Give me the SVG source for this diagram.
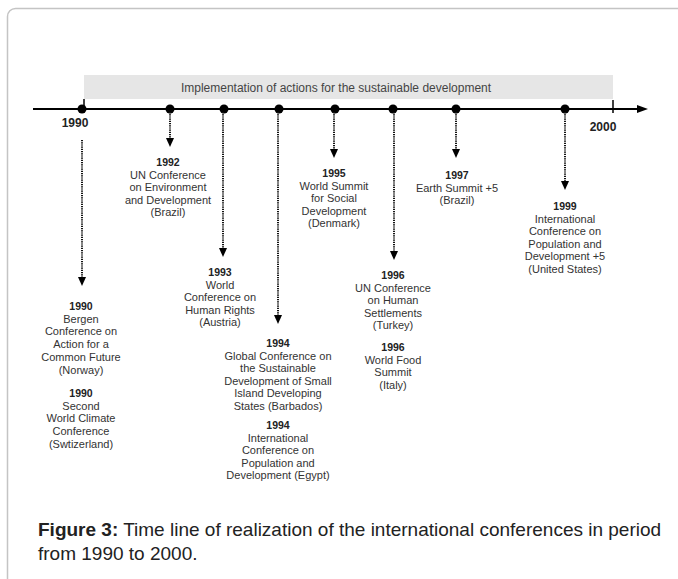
<svg xmlns="http://www.w3.org/2000/svg" width="678" height="579" viewBox="0 0 678 579">
<style>
  text { font-family: "Liberation Sans", Arial, sans-serif; }
  .lbl { font-size: 11px; fill: #333; text-anchor: middle; }
  .yr { font-size: 10.5px; font-weight: bold; fill: #222; }
  .axis { font-size: 12px; font-weight: bold; fill: #222; text-anchor: middle; }
  .band { font-size: 12px; fill: #444; text-anchor: middle; }
  .cap { font-size: 19px; fill: #222; }
  .dash { stroke: #111; stroke-width: 2; stroke-dasharray: 1.2 1; fill: none; }
  .dot { fill: #000; }
</style>
<defs>
  <marker id="ah" markerUnits="userSpaceOnUse" viewBox="0 0 9 8" markerWidth="9" markerHeight="8" refX="5" refY="4" orient="auto">
    <path d="M0,0 L9,4 L0,8 z" fill="#000"/>
  </marker>
</defs>
<rect x="0" y="0" width="678" height="579" fill="#fff"/>
<rect x="7.5" y="8.5" width="700" height="620" rx="8" fill="#fff" stroke="#c4c4c4" stroke-width="1.5"/>

<g id="band">
  <rect x="84" y="75" width="529" height="24" fill="#e6e6e6"/>
  <text class="band" x="336" y="92">Implementation of actions for the sustainable development</text>
</g>

<g id="axis">
  <line x1="33" y1="109" x2="640" y2="109" stroke="#000" stroke-width="2"/>
  <polygon points="637,105 648,109 637,113" fill="#000"/>
  <line x1="84" y1="99" x2="84" y2="109" stroke="#000" stroke-width="1.5"/>
  <line x1="613" y1="100" x2="613" y2="113" stroke="#000" stroke-width="1.5"/>
  <text class="axis" x="75" y="127">1990</text>
  <text class="axis" x="603" y="131">2000</text>
  <circle class="dot" cx="82" cy="109" r="4.5"/>
  <circle class="dot" cx="170" cy="109" r="4.5"/>
  <circle class="dot" cx="224" cy="109" r="4.5"/>
  <circle class="dot" cx="279" cy="109" r="4.5"/>
  <circle class="dot" cx="335" cy="109" r="4.5"/>
  <circle class="dot" cx="393" cy="109" r="4.5"/>
  <circle class="dot" cx="456" cy="109" r="4.5"/>
  <circle class="dot" cx="565" cy="109" r="4.5"/>
</g>

<g id="connectors">
  <line class="dash" x1="82" y1="140" x2="82" y2="282" marker-end="url(#ah)"/>
  <line class="dash" x1="170" y1="112" x2="170" y2="143" marker-end="url(#ah)"/>
  <line class="dash" x1="223" y1="112" x2="223" y2="253" marker-end="url(#ah)"/>
  <line class="dash" x1="278" y1="112" x2="278" y2="320" marker-end="url(#ah)"/>
  <line class="dash" x1="334" y1="112" x2="334" y2="154" marker-end="url(#ah)"/>
  <line class="dash" x1="394" y1="112" x2="394" y2="256" marker-end="url(#ah)"/>
  <line class="dash" x1="456" y1="112" x2="456" y2="154" marker-end="url(#ah)"/>
  <line class="dash" x1="565" y1="112" x2="565" y2="186" marker-end="url(#ah)"/>
</g>

<g id="n1990a">
  <text class="lbl" x="81" y="310"><tspan class="yr" x="81">1990</tspan><tspan x="81" dy="12.7">Bergen</tspan><tspan x="81" dy="12.7">Conference on</tspan><tspan x="81" dy="12.7">Action for a</tspan><tspan x="81" dy="12.7">Common Future</tspan><tspan x="81" dy="12.7">(Norway)</tspan></text>
</g>
<g id="n1990b">
  <text class="lbl" x="81" y="397"><tspan class="yr" x="81">1990</tspan><tspan x="81" dy="12.7">Second</tspan><tspan x="81" dy="12.7">World Climate</tspan><tspan x="81" dy="12.7">Conference</tspan><tspan x="81" dy="12.7">(Swtizerland)</tspan></text>
</g>
<g id="n1992">
  <text class="lbl" x="168" y="166"><tspan class="yr" x="168">1992</tspan><tspan x="168" dy="12.6">UN Conference</tspan><tspan x="168" dy="12.6">on Environment</tspan><tspan x="168" dy="12.6">and Development</tspan><tspan x="168" dy="12.6">(Brazil)</tspan></text>
</g>
<g id="n1993">
  <text class="lbl" x="220" y="276"><tspan class="yr" x="220">1993</tspan><tspan x="220" dy="12.6">World</tspan><tspan x="220" dy="12.6">Conference on</tspan><tspan x="220" dy="12.6">Human Rights</tspan><tspan x="220" dy="12.6">(Austria)</tspan></text>
</g>
<g id="n1994a">
  <text class="lbl" x="278" y="347"><tspan class="yr" x="278">1994</tspan><tspan x="278" dy="12.6">Global Conference on</tspan><tspan x="278" dy="12.6">the Sustainable</tspan><tspan x="278" dy="12.6">Development of Small</tspan><tspan x="278" dy="12.6">Island Developing</tspan><tspan x="278" dy="12.6">States (Barbados)</tspan></text>
</g>
<g id="n1994b">
  <text class="lbl" x="278" y="429"><tspan class="yr" x="278">1994</tspan><tspan x="278" dy="12.6">International</tspan><tspan x="278" dy="12.6">Conference on</tspan><tspan x="278" dy="12.6">Population and</tspan><tspan x="278" dy="12.6">Development (Egypt)</tspan></text>
</g>
<g id="n1995">
  <text class="lbl" x="334" y="177"><tspan class="yr" x="334">1995</tspan><tspan x="334" dy="12.6">World Summit</tspan><tspan x="334" dy="12.6">for Social</tspan><tspan x="334" dy="12.6">Development</tspan><tspan x="334" dy="12.6">(Denmark)</tspan></text>
</g>
<g id="n1996a">
  <text class="lbl" x="393" y="279"><tspan class="yr" x="393">1996</tspan><tspan x="393" dy="12.6">UN Conference</tspan><tspan x="393" dy="12.6">on Human</tspan><tspan x="393" dy="12.6">Settlements</tspan><tspan x="393" dy="12.6">(Turkey)</tspan></text>
</g>
<g id="n1996b">
  <text class="lbl" x="393" y="351"><tspan class="yr" x="393">1996</tspan><tspan x="393" dy="12.6">World Food</tspan><tspan x="393" dy="12.6">Summit</tspan><tspan x="393" dy="12.6">(Italy)</tspan></text>
</g>
<g id="n1997">
  <text class="lbl" x="457" y="179"><tspan class="yr" x="457">1997</tspan><tspan x="457" dy="12.6">Earth Summit +5</tspan><tspan x="457" dy="12.6">(Brazil)</tspan></text>
</g>
<g id="n1999">
  <text class="lbl" x="565" y="210"><tspan class="yr" x="565">1999</tspan><tspan x="565" dy="12.6">International</tspan><tspan x="565" dy="12.6">Conference on</tspan><tspan x="565" dy="12.6">Population and</tspan><tspan x="565" dy="12.6">Development +5</tspan><tspan x="565" dy="12.6">(United States)</tspan></text>
</g>

<g id="caption">
  <text class="cap" x="38" y="536"><tspan font-weight="bold">Figure 3:</tspan> Time line of realization of the international conferences in period</text>
  <text class="cap" x="38" y="560">from 1990 to 2000.</text>
</g>
</svg>
